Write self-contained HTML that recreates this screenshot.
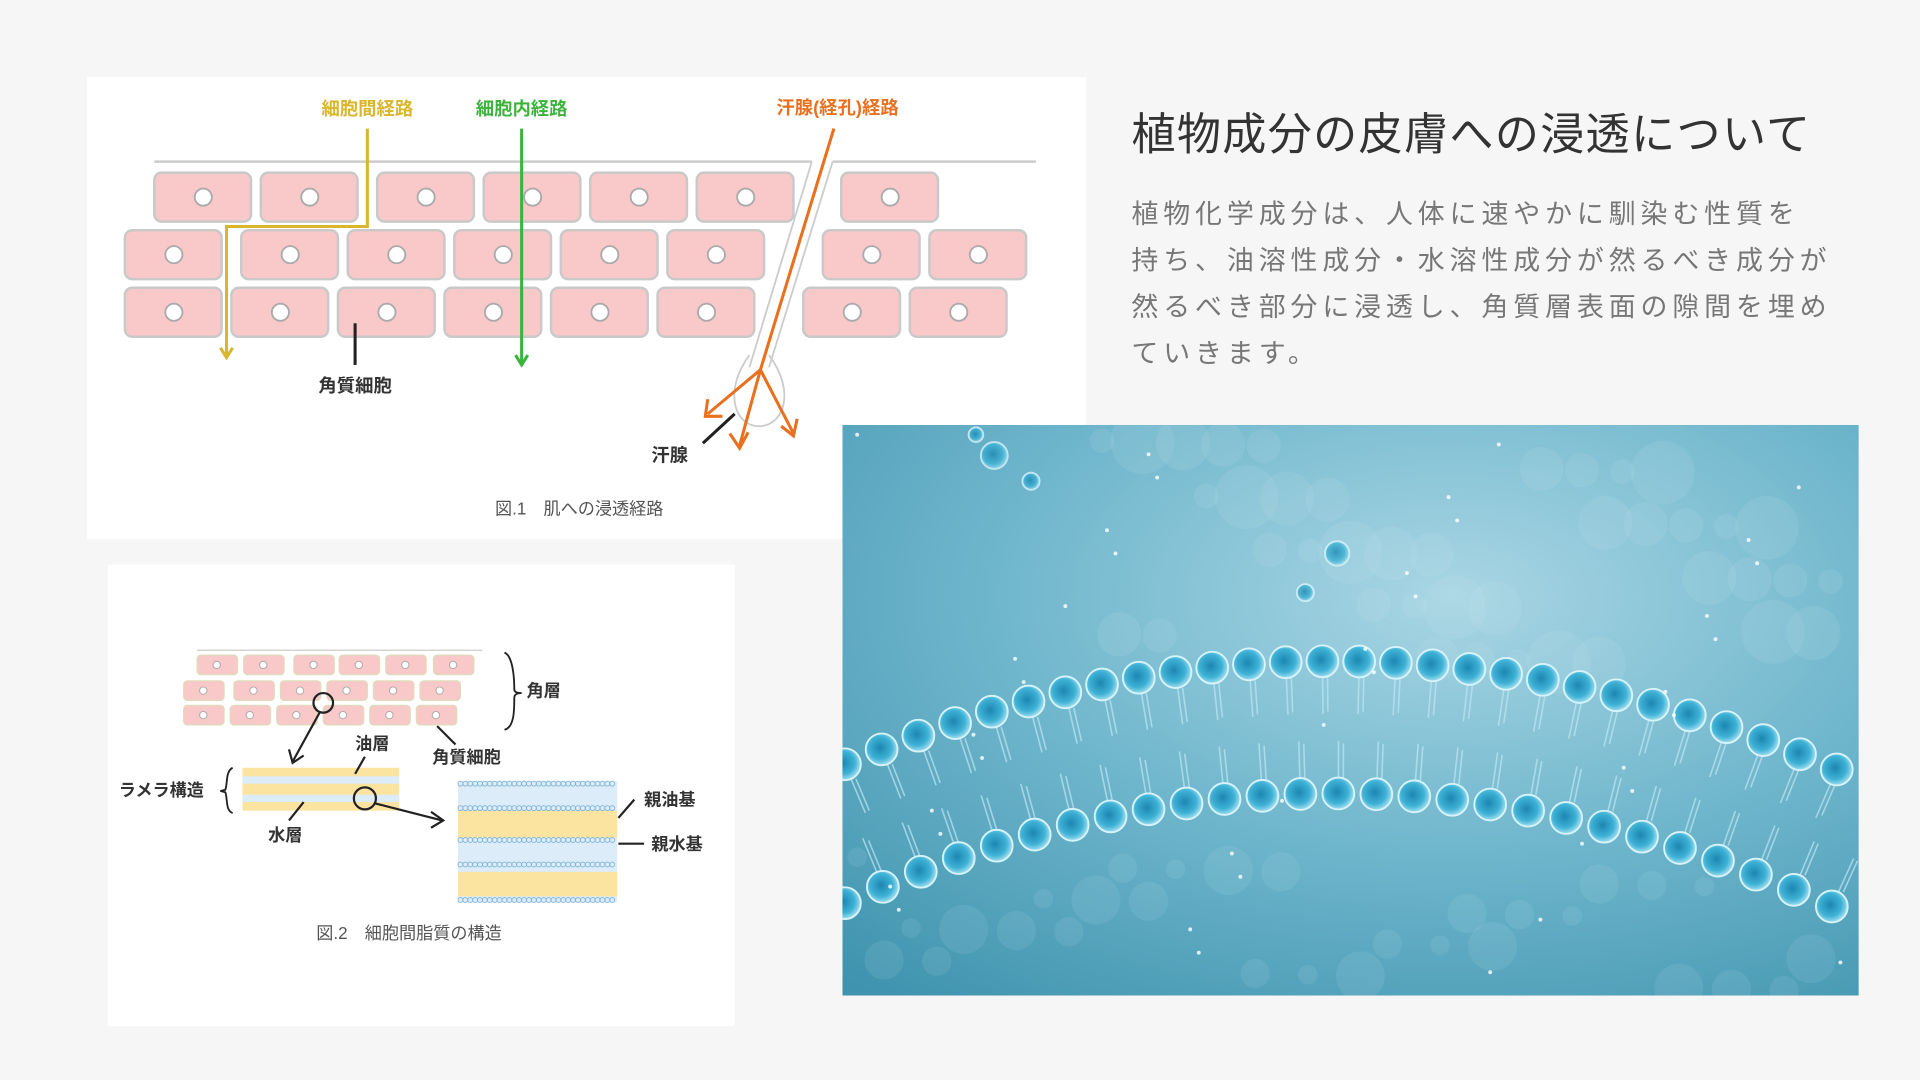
<!DOCTYPE html>
<html><head><meta charset="utf-8"><style>
html,body{margin:0;padding:0;background:#f6f6f6;}
svg{display:block}
text{font-family:"Liberation Sans","Noto Sans CJK JP",sans-serif;}
</style></head><body>
<svg id="s" width="1920" height="1080" viewBox="0 0 1568 882" xmlns="http://www.w3.org/2000/svg">
<defs>
<radialGradient id="bg" cx="0.6" cy="0.3" r="0.9">
<stop offset="0" stop-color="#a9d6e4"/><stop offset="0.5" stop-color="#6fb6cc"/><stop offset="1" stop-color="#3f93ae"/>
</radialGradient>
<radialGradient id="ball" cx="0.45" cy="0.45" r="0.6">
<stop offset="0" stop-color="#1c86b0"/><stop offset="0.6" stop-color="#3fb2d6"/><stop offset="1" stop-color="#bdeaf6"/>
</radialGradient>
<marker id="ay" markerWidth="12" markerHeight="12" refX="10" refY="6" orient="auto" markerUnits="userSpaceOnUse"><path d="M2,1 L10,6 L2,11" fill="none" stroke="#d9b62e" stroke-width="2.5"/></marker>
<marker id="ag" markerWidth="12" markerHeight="12" refX="10" refY="6" orient="auto" markerUnits="userSpaceOnUse"><path d="M2,1 L10,6 L2,11" fill="none" stroke="#3cb43c" stroke-width="2.5"/></marker>
<clipPath id="pc"><rect x="688" y="347" width="830" height="466"/></clipPath>
</defs>
<rect width="1568" height="882" fill="#f6f6f6"/>
<!-- Fig1 -->
<rect x="71" y="63" width="816" height="377" fill="#fff"/>
<line x1="126" y1="132" x2="663" y2="132" stroke="#ccc" stroke-width="2"/>
<line x1="680" y1="132" x2="846" y2="132" stroke="#ccc" stroke-width="2"/>
<line x1="663" y1="132" x2="612" y2="300" stroke="#ccc" stroke-width="1.5"/>
<line x1="680" y1="132" x2="628" y2="300" stroke="#ccc" stroke-width="1.5"/>
<path d="M612,290 C590,320 600,350 622,348 C640,346 650,320 628,290" fill="none" stroke="#ccc" stroke-width="1.5"/>
<g id="cells1"></g>
<polyline points="300,105 300,185 185,185 185,292" fill="none" stroke="#d9b62e" stroke-width="2.5" marker-end="url(#ay)"/>
<line x1="426" y1="105" x2="426" y2="298" stroke="#3cb43c" stroke-width="2.5" marker-end="url(#ag)"/>
<g stroke="#e8701e" stroke-width="2.5" fill="none">
<line x1="681" y1="105" x2="621" y2="302"/>
<path d="M621,302 L578,338 M578,326 L576,340 L590,340"/>
<path d="M621,302 L604,364 M596,354 L604,366 L611,353"/>
<path d="M621,302 L648,354 M638,348 L648,356 L651,342"/>
</g>
<g font-weight="bold" font-size="15" text-anchor="middle">
<text x="300" y="94" fill="#d9b62e">細胞間経路</text>
<text x="426" y="94" fill="#3cb43c">細胞内経路</text>
<text x="684" y="93" fill="#e8701e">汗腺(経孔)経路</text>
<text x="290" y="320" fill="#333">角質細胞</text>
<text x="547" y="377" fill="#333">汗腺</text>
</g>
<line x1="290" y1="264" x2="290" y2="298" stroke="#222" stroke-width="2.5"/>
<line x1="574" y1="362" x2="600" y2="338" stroke="#222" stroke-width="2.5"/>
<text x="473" y="420" font-size="14" fill="#555" text-anchor="middle">図.1　肌への浸透経路</text>
<!-- Fig2 -->
<rect x="88" y="461" width="512" height="377" fill="#fff"/>
<line x1="161" y1="531" x2="394" y2="531" stroke="#ccc" stroke-width="1"/>
<g id="cells2"></g>
<path d="M412,533 C420,536 420,560 420,563 C420,566 424,566 426,566 C424,566 420,566 420,570 C420,580 420,594 412,596" fill="none" stroke="#222" stroke-width="1.5"/>
<circle cx="264" cy="574" r="8" fill="none" stroke="#222" stroke-width="1.8"/>
<line x1="261" y1="582" x2="239" y2="622" stroke="#222" stroke-width="1.8"/>
<path d="M236,612 L239,623 L248,617" fill="none" stroke="#222" stroke-width="1.8"/>
<line x1="357" y1="593" x2="372" y2="608" stroke="#222" stroke-width="1.8"/>
<rect x="198" y="627" width="128" height="35" fill="#fbe3a0"/>
<rect x="198" y="634" width="128" height="6" fill="#dcecf8"/>
<rect x="198" y="649" width="128" height="6" fill="#dcecf8"/>
<line x1="298" y1="618" x2="290" y2="632" stroke="#222" stroke-width="1.8"/>
<line x1="248" y1="655" x2="236" y2="670" stroke="#222" stroke-width="1.8"/>
<path d="M190,627 C184,630 186,640 184,645 L180,646 L184,647 C186,652 184,662 190,664" fill="none" stroke="#222" stroke-width="1.5"/>
<circle cx="298" cy="652" r="9" fill="none" stroke="#222" stroke-width="1.8"/>
<line x1="306" y1="656" x2="361" y2="670" stroke="#222" stroke-width="1.8"/>
<path d="M352,663 L362,670 L352,676" fill="none" stroke="#222" stroke-width="1.8"/>
<g id="lip"></g>
<line x1="505" y1="668" x2="518" y2="653" stroke="#222" stroke-width="1.8"/>
<line x1="505" y1="689" x2="526" y2="689" stroke="#222" stroke-width="1.8"/>
<g font-weight="bold" font-size="14" fill="#333">
<text x="430" y="569">角層</text>
<text x="353" y="623">角質細胞</text>
<text x="290" y="612">油層</text>
<text x="219" y="687">水層</text>
<text x="97" y="650">ラメラ構造</text>
<text x="526" y="658">親油基</text>
<text x="532" y="694">親水基</text>
</g>
<text x="334" y="767" font-size="14" fill="#555" text-anchor="middle">図.2　細胞間脂質の構造</text>
<!-- text -->
<text x="924" y="122" font-size="36" fill="#333" letter-spacing="1.1">植物成分の皮膚への浸透について</text>
<g font-size="22" fill="#777" letter-spacing="4">
<text x="924" y="182">植物化学成分は、人体に速やかに馴染む性質を</text>
<text x="924" y="220">持ち、油溶性成分・水溶性成分が然るべき成分が</text>
<text x="924" y="258">然るべき部分に浸透し、角質層表面の隙間を埋め</text>
<text x="924" y="296">ていきます。</text>
</g>
<!-- photo -->
<g clip-path="url(#pc)">
<rect x="688" y="347" width="830" height="466" fill="url(#bg)"/>
<g id="photo"></g>
</g>
</svg>
<script>
var NS="http://www.w3.org/2000/svg";
function el(p,t,a){var e=document.createElementNS(NS,t);for(var k in a)e.setAttribute(k,a[k]);p.appendChild(e);return e;}
var c1=document.getElementById("cells1");
var rows=[[141,[126,213,308,395,482,569,687]],[188,[102,197,284,371,458,545,672,759]],[235,[102,189,276,363,450,537,656,743]]];
rows.forEach(function(r){r[1].forEach(function(x){el(c1,"rect",{x:x,y:r[0],width:79,height:40,rx:6,fill:"#f9c8c8",stroke:"#c9c9c9","stroke-width":2});el(c1,"circle",{cx:x+40,cy:r[0]+20,r:7,fill:"#fff",stroke:"#aaa","stroke-width":1.5});});});
var c2=document.getElementById("cells2");
var rows2=[[535,[161,199,240,277,315,354]],[556,[150,191,229,267,305,343]],[576,[150,188,226,264,302,340]]];
rows2.forEach(function(r){r[1].forEach(function(x){el(c2,"rect",{x:x,y:r[0],width:33,height:16,rx:3,fill:"#f9c8c8",stroke:"#ddb","stroke-width":1});el(c2,"circle",{cx:x+16,cy:r[0]+8,r:3,fill:"#fff",stroke:"#aaa","stroke-width":0.8});});});
var lp=document.getElementById("lip");
el(lp,"rect",{x:374,y:638,width:130,height:99,fill:"#dcecf8"});
el(lp,"rect",{x:374,y:662,width:130,height:22,fill:"#fbe3a0"});
el(lp,"rect",{x:374,y:712,width:130,height:20,fill:"#fbe3a0"});
[640,660,686,706,735].forEach(function(y){for(var x=376;x<504;x+=4)el(lp,"circle",{cx:x,cy:y,r:2,fill:"none",stroke:"#7ab0d8","stroke-width":0.7});});
var ph=document.getElementById("photo");
for(var i=0;i<40;i++){var x=900+((i*137)%600),y=360+((i*89)%200);el(ph,"circle",{cx:x,cy:y,r:10+(i%5)*4,fill:"#cfeaf2",opacity:0.12});}
for(var i=0;i<30;i++){var x=700+((i*173)%800),y=700+((i*61)%110);el(ph,"circle",{cx:x,cy:y,r:8+(i%4)*4,fill:"#cfeaf2",opacity:0.1});}
function row(y0,k,step,r,dir){for(var x=690;x<=1525;x+=step){var y=y0+k*(x-1090)*(x-1090);
 var s=-2*k*(x-1090);var nx=s,ny=1;var L=Math.sqrt(nx*nx+1);nx/=L;ny/=L;
 el(ph,"line",{x1:x+nx*r*dir,y1:y+ny*r*dir,x2:x+nx*(r+30)*dir,y2:y+ny*(r+30)*dir,stroke:"#bfe6f2","stroke-width":1.3,opacity:0.7});
 el(ph,"line",{x1:x+4+nx*r*dir,y1:y+ny*r*dir,x2:x+4+nx*(r+28)*dir,y2:y+ny*(r+28)*dir,stroke:"#bfe6f2","stroke-width":1.3,opacity:0.7});
 el(ph,"circle",{cx:x,cy:y,r:r,fill:"url(#ball)",stroke:"#d8f4fb","stroke-width":1.5});}}
row(540,0.000526,30,13,1);
row(648,0.00056,31,13,-1);
[[812,372,11],[842,393,7],[1092,452,10],[1066,484,7],[797,355,6]].forEach(function(a){el(ph,"circle",{cx:a[0],cy:a[1],r:a[2],fill:"url(#ball)",stroke:"#d8f4fb","stroke-width":1.5,opacity:0.8});});
for(var i=0;i<40;i++){el(ph,"circle",{cx:700+((i*211)%810),cy:355+((i*97)%450),r:1.6,fill:"#fff",opacity:0.8});}
</script>
</body></html>
